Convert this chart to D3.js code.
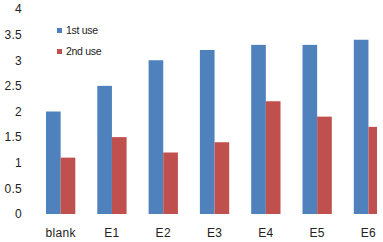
<!DOCTYPE html>
<html>
<head>
<meta charset="utf-8">
<script src="https://cdn.jsdelivr.net/npm/d3@7"></script>
<style>
  body { margin: 0; background: #fff; }
  svg { display: block; }
  .axis text { font-family: "Liberation Sans", Arial, sans-serif; font-size: 12px; fill: #222; letter-spacing: 0.3px; }
  .legend text { font-family: "Liberation Sans", Arial, sans-serif; font-size: 10.5px; fill: #222; letter-spacing: -0.3px; }
</style>
</head>
<body>
<svg></svg>
<script>
var categories = ["blank", "E1", "E2", "E3", "E4", "E5", "E6"];
var seriesNames = ["1st use", "2nd use"];
var firstUse = [2.0, 2.5, 3.0, 3.2, 3.3, 3.3, 3.4];
var secondUse = [1.1, 1.5, 1.2, 1.4, 2.2, 1.9, 1.7];
var yTicks = [0, 0.5, 1, 1.5, 2, 2.5, 3, 3.5, 4];
var colors = ["#4F81BD", "#C0504D"];

var screen = { width: 383, height: 242 };
var margins = { top: 9, left: 35, bottom: 28 };
var height = screen.height - margins.top - margins.bottom;

var svg = d3.select("svg")
            .attr("width", screen.width)
            .attr("height", screen.height);

svg.append("defs").append("clipPath").attr("id", "clip")
   .append("rect").attr("x", 0).attr("y", -5).attr("width", 377 - margins.left).attr("height", height + 40);

var xScale = d3.scaleBand()
               .domain(categories)
               .range([0, 51.3 * categories.length])
               .paddingInner(22 / 51.3)
               .paddingOuter(11 / 51.3);
var inner = d3.scaleBand()
              .domain(seriesNames)
              .range([0, xScale.bandwidth()]);
var yScale = d3.scaleLinear()
               .domain([0, 4])
               .range([height, 0]);

var plot = svg.append("g")
              .attr("transform", "translate(" + margins.left + "," + margins.top + ")");

var bars = plot.append("g").attr("clip-path", "url(#clip)");

var rows = categories.map(function(c, i) {
  return { cat: c, vals: [firstUse[i], secondUse[i]] };
});

bars.selectAll("g")
    .data(rows)
    .enter()
    .append("g")
    .attr("transform", function(d) { return "translate(" + xScale(d.cat) + ",0)"; })
    .selectAll("rect")
    .data(function(d) { return d.vals.map(function(v, j) { return { name: seriesNames[j], v: v, j: j }; }); })
    .enter()
    .append("rect")
    .attr("x", function(d) { return inner(d.name); })
    .attr("y", function(d) { return yScale(d.v); })
    .attr("width", inner.bandwidth())
    .attr("height", function(d) { return height - yScale(d.v); })
    .attr("fill", function(d) { return colors[d.j]; });

var yAxis = d3.axisLeft(yScale)
              .tickValues(yTicks)
              .tickSize(0)
              .tickPadding(13)
              .tickFormat(function(d) { return d; });
plot.append("g")
    .attr("class", "axis")
    .call(yAxis)
    .call(function(g) { g.select(".domain").remove(); });

var xAxis = d3.axisBottom(xScale).tickSize(0).tickPadding(14);
plot.append("g")
    .attr("class", "axis")
    .attr("transform", "translate(0," + height + ")")
    .call(xAxis)
    .call(function(g) { g.select(".domain").remove(); });

var legend = svg.append("g").attr("class", "legend")
                .attr("transform", "translate(57,28)");
var items = legend.selectAll("g")
                  .data(seriesNames)
                  .enter()
                  .append("g")
                  .attr("transform", function(d, i) { return "translate(0," + (i * 21) + ")"; });
items.append("rect")
     .attr("width", 5).attr("height", 5)
     .attr("fill", function(d, i) { return colors[i]; });
items.append("text")
     .attr("x", 9).attr("y", 5.5)
     .text(function(d) { return d; });
</script>
</body>
</html>
